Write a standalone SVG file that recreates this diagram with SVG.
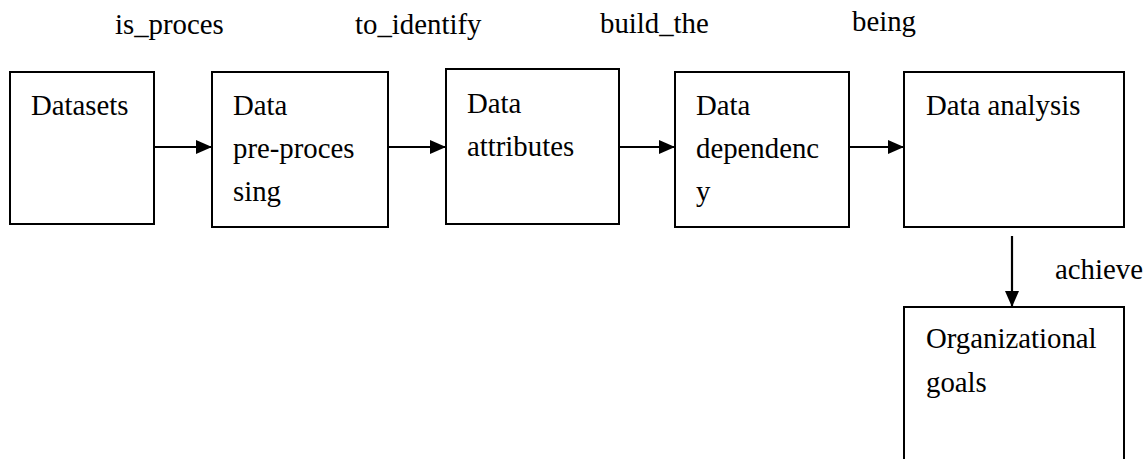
<svg xmlns="http://www.w3.org/2000/svg" width="1148" height="459" viewBox="0 0 1148 459">
  <defs>
    <marker id="arrow" viewBox="0 0 16 14" refX="16" refY="7" markerWidth="16" markerHeight="14" markerUnits="userSpaceOnUse" orient="auto">
      <path d="M0,0 L16,7 L0,14 Z" fill="#000"/>
    </marker>
    <style>
      .box { fill: #fff; stroke: #000; stroke-width: 2; }
      .lbl { font-size: 28.8px; fill: #000; }
      .edge { stroke: #000; stroke-width: 2.2; fill: none; marker-end: url(#arrow); }
    </style>
  </defs>
  <rect width="1148" height="459" fill="#fff"/>

  <!-- labels written beside the arrows -->
  <g id="edge-labels">
    <text class="lbl" font-family="Liberation Serif" x="115" y="34">is_proces</text>
    <text class="lbl" font-family="Liberation Serif" x="355" y="34">to_identify</text>
    <text class="lbl" font-family="Liberation Serif" x="600" y="33">build_the</text>
    <text class="lbl" font-family="Liberation Serif" x="852" y="31">being</text>
    <text class="lbl" font-family="Liberation Serif" x="1055" y="279">achieve</text>
  </g>

  <g id="datasets">
    <rect class="box" x="10" y="72" width="144" height="152"/>
    <text class="lbl" font-family="Liberation Serif" x="31" y="115">Datasets</text>
  </g>

  <g id="preprocessing">
    <rect class="box" x="212" y="72" width="176" height="155"/>
    <text class="lbl" font-family="Liberation Serif" x="233" y="115">Data</text>
    <text class="lbl" font-family="Liberation Serif" x="233" y="158">pre-proces</text>
    <text class="lbl" font-family="Liberation Serif" x="233" y="201">sing</text>
  </g>

  <g id="attributes">
    <rect class="box" x="446" y="69" width="173" height="155"/>
    <text class="lbl" font-family="Liberation Serif" x="467" y="113">Data</text>
    <text class="lbl" font-family="Liberation Serif" x="467" y="156">attributes</text>
  </g>

  <g id="dependency">
    <rect class="box" x="675" y="72" width="174" height="155"/>
    <text class="lbl" font-family="Liberation Serif" x="696" y="115">Data</text>
    <text class="lbl" font-family="Liberation Serif" x="696" y="158">dependenc</text>
    <text class="lbl" font-family="Liberation Serif" x="696" y="201">y</text>
  </g>

  <g id="analysis">
    <rect class="box" x="904" y="72" width="220" height="155"/>
    <text class="lbl" font-family="Liberation Serif" x="926" y="115">Data analysis</text>
  </g>

  <g id="goals">
    <rect class="box" x="904" y="307" width="220" height="170"/>
    <text class="lbl" font-family="Liberation Serif" x="926" y="348">Organizational</text>
    <text class="lbl" font-family="Liberation Serif" x="926" y="392">goals</text>
  </g>

  <g id="connectors">
    <line class="edge" x1="155" y1="147" x2="212" y2="147"/>
    <line class="edge" x1="389" y1="147" x2="446" y2="147"/>
    <line class="edge" x1="620" y1="147" x2="675" y2="147"/>
    <line class="edge" x1="850" y1="147" x2="904" y2="147"/>
    <line class="edge" x1="1012" y1="236" x2="1012" y2="307"/>
  </g>
</svg>
